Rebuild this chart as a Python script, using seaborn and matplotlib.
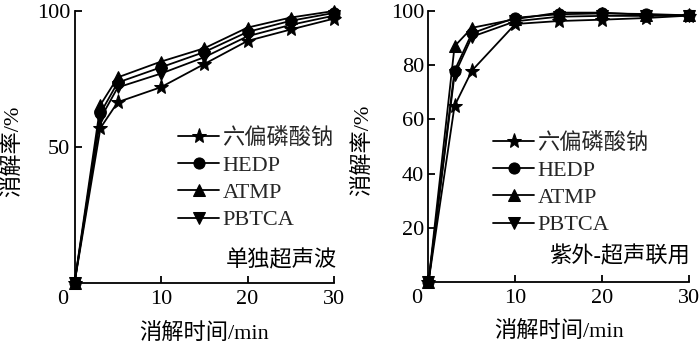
import matplotlib
matplotlib.use("Agg")
import matplotlib.pyplot as plt
import matplotlib.transforms as mtransforms
import seaborn as sns
import pandas as pd

# ---------------- data ----------------
time_min = [0, 3, 5, 10, 15, 20, 25, 30]
series_names = ["六偏磷酸钠", "HEDP", "ATMP", "PBTCA"]
markers = ["*", "o", "^", "v"]

# 单独超声波
us_hmp   = [0, 57.0, 66.5, 72.0, 80.5, 89.0, 93.2, 97.2]
us_hedp  = [0, 62.5, 73.7, 79.3, 84.9, 92.3, 96.4, 99.3]
us_atmp  = [0, 65.5, 75.6, 81.4, 86.3, 93.9, 97.6, 100.0]
us_pbtca = [0, 60.5, 71.9, 77.0, 83.0, 90.7, 94.9, 98.3]

# 紫外-超声联用
uv_hmp   = [0, 65.0, 78.0, 95.2, 96.3, 96.8, 97.4, 98.3]
uv_hedp  = [0, 78.0, 91.8, 97.5, 98.8, 99.1, 98.9, 98.4]
uv_atmp  = [0, 87.0, 93.8, 97.0, 99.4, 99.4, 98.6, 98.4]
uv_pbtca = [0, 76.5, 90.5, 96.2, 97.9, 98.2, 98.2, 98.3]

x_ticks = [0, 10, 20, 30]
left_yticks = [50, 100]
right_yticks = [20, 40, 60, 80, 100]

x_label = "消解时间/min"
y_label = "消解率/%"
left_note = "单独超声波"
right_note = "紫外-超声联用"

# ---------------- style ----------------
sns.set_theme(style="ticks")
plt.rcParams["font.family"] = ["Liberation Serif", "Noto Sans CJK SC", "DejaVu Sans"]
plt.rcParams["axes.unicode_minus"] = False

fig = plt.figure(figsize=(7.0, 3.45), dpi=100)
axL = fig.add_axes([74.5 / 700, 1 - 283 / 345, (334 - 74.5) / 700, 272 / 345])
axR = fig.add_axes([428.5 / 700, 1 - 282 / 345, (689 - 428.5) / 700, 271 / 345])

def draw(ax, ys, yticks, note, note_xy, leg_xy, ylab_x):
    frames = []
    for name, y in zip(series_names, ys):
        frames.append(pd.DataFrame({"t": time_min, "v": y, "s": name}))
    df = pd.concat(frames, ignore_index=True)
    for name, mk in zip(series_names, markers):
        sub = df[df["s"] == name]
        sns.lineplot(data=sub, x="t", y="v", ax=ax, color="black", lw=1.3,
                     marker=mk, markersize=(11 if mk == "*" else 8),
                     markeredgecolor="black", markerfacecolor="black",
                     label=name, clip_on=False, zorder=3)
    ax.set_xlim(0, 30)
    ax.set_ylim(0, 100)
    ax.set_xticks(x_ticks)
    ax.set_yticks(yticks)
    ax.set_xticklabels([str(v) for v in x_ticks])
    ax.set_yticklabels([str(v) for v in yticks])
    for s in ["top", "right"]:
        ax.spines[s].set_visible(False)
    for s in ["left", "bottom"]:
        ax.spines[s].set_linewidth(1.3)
        ax.spines[s].set_color("black")
    ax.tick_params(direction="in", length=5, width=1.3, labelsize=16,
                   colors="black")
    ax.tick_params(axis="y", pad=3)
    ax.tick_params(axis="x", pad=5)
    # shift the "0" label to the left as in the reference
    lab0 = ax.get_xticklabels()[0]
    lab0.set_transform(lab0.get_transform() +
                       mtransforms.ScaledTranslation(-12 / 100, 0, fig.dpi_scale_trans))
    ax.set_xlabel(x_label, fontsize=16, color="black")
    ax.set_ylabel(y_label, fontsize=16, color="black")
    ax.xaxis.set_label_coords(0.50, -0.145)
    ax.yaxis.set_label_coords(ylab_x, 0.485)
    ax.legend(loc="center left", bbox_to_anchor=leg_xy,
              bbox_transform=fig.transFigure, frameon=False, fontsize=16,
              handlelength=1.85, handletextpad=0.15, labelspacing=0.3,
              borderaxespad=0, borderpad=0)
    fig.text(note_xy[0], note_xy[1], note, ha="right", va="center",
             fontsize=16, color="black")

draw(axL, [us_hmp, us_hedp, us_atmp, us_pbtca], left_yticks, left_note,
     (337 / 700, 1 - 261 / 345), (178 / 700, 1 - 179 / 345), -0.198)
draw(axR, [uv_hmp, uv_hedp, uv_atmp, uv_pbtca], right_yticks, right_note,
     (690 / 700, 1 - 257 / 345), (493 / 700, 1 - 184 / 345), -0.213)

fig.savefig("out.png", dpi=100)
